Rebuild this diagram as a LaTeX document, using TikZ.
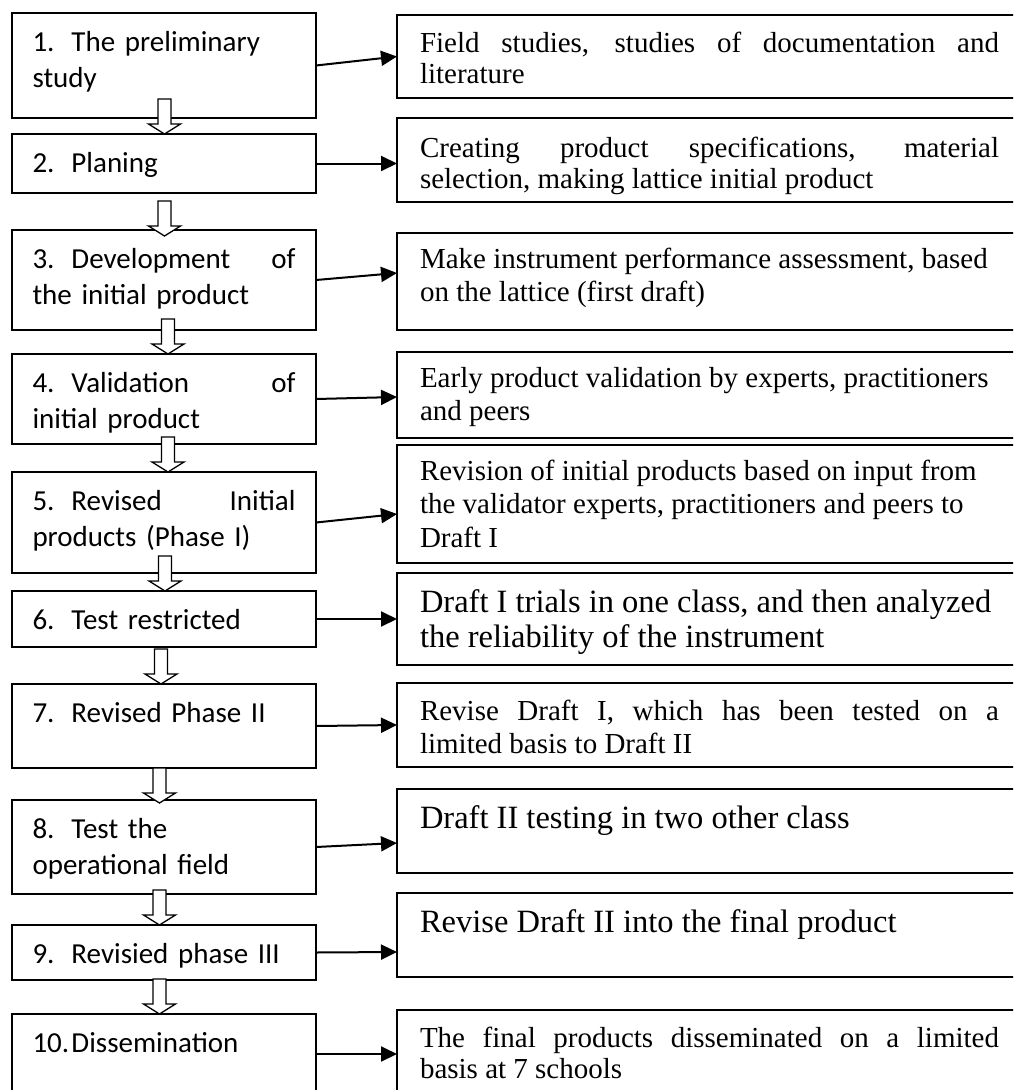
\documentclass[tikz,border=0pt]{standalone}
\usepackage{fontspec}
\setmainfont{Liberation Serif}
\newfontfamily\calibrifont{Carlito}
\usepackage{tikz}
\usetikzlibrary{arrows.meta, positioning}
\hyphenpenalty=10000
\exhyphenpenalty=10000

% number of a step, with the next lines hanging under the text
\newcommand{\itemno}[1]{\hangindent=39pt\hangafter=1\noindent\makebox[39pt][l]{#1}}

\begin{document}
\begin{tikzpicture}[x=1pt, y=1pt, >={Triangle[length=16pt, width=15pt]},
    stepbox/.style={draw, line width=1.6pt, outer sep=0pt, inner xsep=20.5pt, inner ysep=0pt, text width=263pt, text height=38pt, font=\calibrifont\fontsize{29}{36}\selectfont},
    notebox/.style={draw, line width=1.6pt, outer sep=0pt, inner xsep=23pt, inner ysep=0pt, text width=579pt, align=justify, font=\fontsize{29}{33.5}\selectfont},
    tightnote/.style={notebox, font=\fontsize{29}{31}\selectfont},
    bignote/.style={notebox, font=\fontsize{32.5}{35.5}\selectfont},
    flow/.style={->, line width=2pt},
    hollow/.style={draw, fill=white, line width=1.3pt},
    blockdown/.style={insert path={-- ++(-16,10) -- ++(9.5,0) -- ++(0,25) -- ++(13,0) -- ++(0,-25) -- ++(9.5,0) -- cycle}}]
    \useasboundingbox (0,0) rectangle (1013,-1090);
    \clip (0,0) rectangle (1013,-1090);

    % Steps
    \node[stepbox, anchor=north west, text depth=67pt] (b1) at (12,-13) {\itemno{1.}The preliminary\\study};
    \node[stepbox, below=16pt of b1, text depth=21pt] (b2) {\itemno{2.}Planing};
    \node[stepbox, below=37pt of b2, text depth=62pt] (b3) {\itemno{3.}Development\hfill of\\the initial product};
    \node[stepbox, below=24pt of b3, text depth=52pt] (b4) {\itemno{4.}Validation\hfill of\\initial product};
    \node[stepbox, below=28pt of b4, text depth=63pt] (b5) {\itemno{5.}Revised\hfill Initial\\products (Phase I)};
    \node[stepbox, below=18pt of b5, text depth=18pt] (b6) {\itemno{6.}Test restricted};
    \node[stepbox, below=37pt of b6, text depth=46pt] (b7) {\itemno{7.}Revised Phase II};
    \node[stepbox, below=32pt of b7, text depth=56pt] (b8) {\itemno{8.}Test the\\operational field};
    \node[stepbox, below=31pt of b8, text depth=17pt] (b9) {\itemno{9.}Revisied phase III};
    \node[stepbox, below=34pt of b9, text depth=42pt] (b10) {\itemno{10.}Dissemination};

    % Activities
    \node[tightnote, anchor=north west, text height=37pt, text depth=46pt] (r1) at (397,-15) {Field studies, studies of documentation and\linebreak literature};
    \node[tightnote, below=20pt of r1, text height=39pt, text depth=45pt] (r2) {Creating product specifications, material\linebreak selection, making lattice initial product};
    \node[notebox, below=31pt of r2, text height=35pt, text depth=62pt] (r3) {Make instrument performance assessment, based\newline on the lattice (first draft)};
    \node[notebox, below=22pt of r3, text height=35pt, text depth=51pt] (r4) {Early product validation by experts, practitioners\newline and peers};
    \node[notebox, below=7pt of r4, text height=35pt, text depth=83pt] (r5) {Revision of initial products based on input from\newline the validator experts, practitioners and peers to\newline Draft I};
    \node[bignote, below=10pt of r5, text height=39pt, text depth=53pt] (r6) {Draft I trials in one class, and then analyzed\newline the reliability of the instrument};
    \node[notebox, below=18pt of r6, text height=37pt, text depth=47pt] (r7) {Revise Draft I, which has been tested on a\linebreak limited basis to Draft II};
    \node[bignote, below=22pt of r7, text height=39pt, text depth=45pt] (r8) {Draft II testing in two other class};
    \node[bignote, below=20pt of r8, text height=39pt, text depth=45pt] (r9) {Revise Draft II into the final product};
    \node[tightnote, below=33pt of r9, text height=37pt, text depth=51pt] (r10) {The final products disseminated on a limited\linebreak basis at 7 schools};

    % Step to activity arrows
    \draw[flow] (b1.east) -- (r1.west);
    \draw[flow] (b2.east) -- ([yshift=-3.5pt]r2.west);
    \draw[flow] (b3.east) -- ([yshift=8.5pt]r3.west);
    \draw[flow] (b4.east) -- ([yshift=-2pt]r4.west);
    \draw[flow] (b5.east) -- ([yshift=-10pt]r5.west);
    \draw[flow] (b6.east) -- (r6.west);
    \draw[flow] (b7.east) -- (r7.west);
    \draw[flow] (b8.east) -- ([yshift=-12pt]r8.west);
    \draw[flow] (b9.east) -- ([yshift=-17pt]r9.west);
    \draw[flow] (b10.east) -- (r10.west);

    % Hollow arrows between the steps
    \draw[hollow] ([xshift=0.5pt]b2.north) [blockdown];
    \draw[hollow] ([xshift=0.5pt, yshift=-6pt]b3.north) [blockdown];
    \draw[hollow] ([xshift=4pt]b4.north) [blockdown];
    \draw[hollow] ([xshift=4pt]b5.north) [blockdown];
    \draw[hollow] ([xshift=1pt]b6.north) [blockdown];
    \draw[hollow] ([xshift=-3pt]b7.north) [blockdown];
    \draw[hollow] ([xshift=-4.5pt, yshift=-3pt]b8.north) [blockdown];
    \draw[hollow] ([xshift=-4.5pt]b9.north) [blockdown];
    \draw[hollow] ([xshift=-4.5pt]b10.north) [blockdown];
\end{tikzpicture}
\end{document}
